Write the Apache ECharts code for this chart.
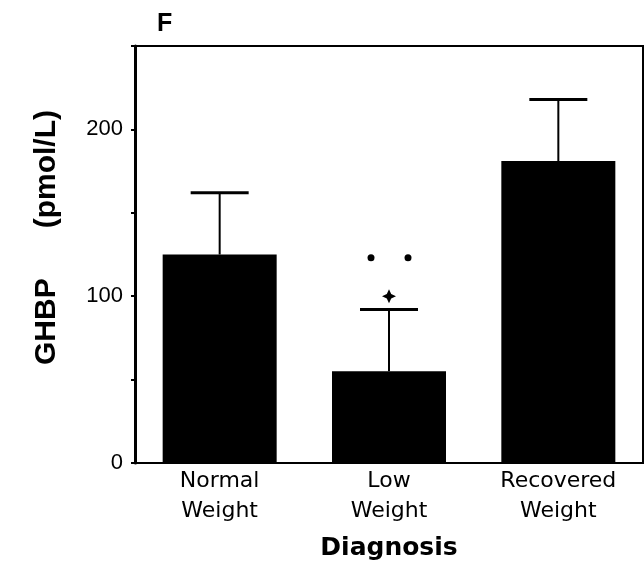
<!DOCTYPE html>
<html>
<head>
<meta charset="utf-8">
<script src="https://cdn.jsdelivr.net/npm/echarts@6/dist/echarts.min.js"></script>
<style>
  html, body { margin: 0; padding: 0; background: #fff; }
  #main { width: 644px; height: 570px; }
</style>
</head>
<body>
<div id="main"></div>
<script>
// data
var categories = ['Normal\nWeight', 'Low\nWeight', 'Recovered\nWeight'];
var means = [125, 55, 181];
var errTops = [162, 92, 218];
var starMarks = [null, 100, null];   // four-point star above low weight
var dotMarks = [null, 123, null];    // two dots above low weight
var yTicks = [0, 100, 200];

var myChart = echarts.init(document.getElementById('main'));

var errData = means.map(function (m, i) { return [i, m, errTops[i]]; });
var annData = [];
starMarks.forEach(function (v, i) { if (v != null) annData.push([i, v, 'star']); });
dotMarks.forEach(function (v, i) { if (v != null) annData.push([i, v, 'dots']); });

var option = {
  animation: false,
  title: {
    text: 'F',
    left: 152,
    top: 7,
    textStyle: { fontFamily: 'Liberation Sans', fontWeight: 'bold', fontSize: 25, color: '#000' }
  },
  grid: {
    left: 135, right: 1, top: 46, bottom: 107,
    show: true, borderColor: '#000', borderWidth: 2
  },
  xAxis: {
    type: 'category',
    data: categories,
    axisLine: { lineStyle: { color: '#000', width: 2 } },
    axisTick: { show: false },
    axisLabel: {
      color: '#000', fontFamily: 'DejaVu Sans', fontSize: 22, lineHeight: 30, margin: 3
    },
    name: 'Diagnosis',
    nameLocation: 'middle',
    nameGap: 73,
    nameTextStyle: { color: '#000', fontFamily: 'DejaVu Sans', fontWeight: 'bold', fontSize: 25 }
  },
  yAxis: {
    type: 'value',
    min: 0, max: 250, interval: 50,
    splitLine: { show: false },
    axisLine: { show: true, lineStyle: { color: '#000', width: 3 } },
    axisTick: { show: true, length: 4, lineStyle: { color: '#000', width: 2 } },
    axisLabel: {
      color: '#000', fontFamily: 'Liberation Sans', fontSize: 22, margin: 12,
      formatter: function (v) { return yTicks.indexOf(v) >= 0 ? String(v) : ''; }
    },
    name: 'GHBP      (pmol/L)',
    nameLocation: 'middle',
    nameRotate: 90,
    nameGap: 73,
    nameTextStyle: {
      color: '#000', fontFamily: 'Liberation Sans', fontWeight: 'bold', fontSize: 30,
      padding: [0, 0, 0, 34]
    }
  },
  series: [
    {
      type: 'bar',
      data: means,
      barWidth: 114,
      itemStyle: { color: '#000' }
    },
    {
      type: 'custom',
      data: errData,
      z: 5,
      renderItem: function (params, api) {
        var x = api.value(0);
        var lo = api.coord([x, api.value(1)]);
        var hi = api.coord([x, api.value(2)]);
        var half = 29;
        return {
          type: 'group',
          children: [
            { type: 'line', shape: { x1: lo[0], y1: lo[1], x2: hi[0], y2: hi[1] },
              style: { stroke: '#000', lineWidth: 2 } },
            { type: 'line', shape: { x1: hi[0] - half, y1: hi[1], x2: hi[0] + half, y2: hi[1] },
              style: { stroke: '#000', lineWidth: 3 } }
          ]
        };
      }
    },
    {
      type: 'custom',
      data: annData,
      z: 5,
      renderItem: function (params, api) {
        var p = api.coord([api.value(0), api.value(1)]);
        var kind = annData[params.dataIndex][2];
        if (kind === 'star') {
          var s = 7, w = 2.2;
          return {
            type: 'polygon',
            shape: { points: [
              [p[0], p[1] - s], [p[0] + w, p[1] - w], [p[0] + s, p[1]], [p[0] + w, p[1] + w],
              [p[0], p[1] + s], [p[0] - w, p[1] + w], [p[0] - s, p[1]], [p[0] - w, p[1] - w]
            ] },
            style: { fill: '#000' }
          };
        }
        return {
          type: 'group',
          children: [
            { type: 'circle', shape: { cx: p[0] - 18, cy: p[1], r: 3.5 }, style: { fill: '#000' } },
            { type: 'circle', shape: { cx: p[0] + 19, cy: p[1], r: 3.5 }, style: { fill: '#000' } }
          ]
        };
      }
    }
  ]
};

myChart.setOption(option);
window.addEventListener('resize', function () {
  myChart.resize();
});
</script>
</body>
</html>
